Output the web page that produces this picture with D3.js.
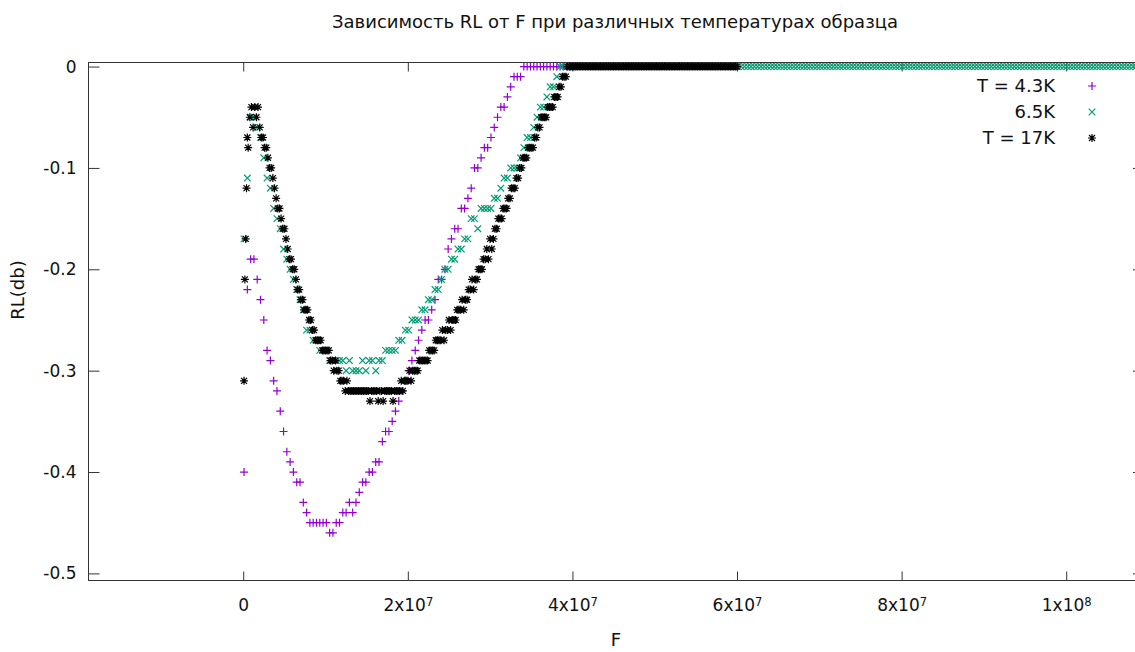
<!DOCTYPE html>
<html>
<head>
<meta charset="utf-8">
<script src="https://cdn.jsdelivr.net/npm/d3@7"></script>
<style>
  body { margin: 0; background: #ffffff; }
  svg { display: block; font-family: "DejaVu Sans", Verdana, sans-serif; }
</style>
</head>
<body>
<svg id="chart" width="1135" height="652"></svg>
<script>
// ---- text ----
const title = "Зависимость RL от F при различных температурах образца";
const xLabel = "F";
const yLabel = "RL(db)";
const seriesNames = ["T = 4.3K", "6.5K", "T = 17K"];

// ---- ticks ----
const yTicks = [0, -0.1, -0.2, -0.3, -0.4, -0.5];
const xTicks = [0, 2e7, 4e7, 6e7, 8e7, 1e8];
const xTickBase = ["0", "2x10", "4x10", "6x10", "8x10", "1x10"];
const xTickExp = ["", "7", "7", "7", "7", "8"];

// ---- sweep frequencies, MHz (4.3K and 6.5K runs) ----
const sweepMHz = [
  0.1,0.5,0.9,1.3,1.7,2.1,2.5,2.9,3.3,3.7,
  4.1,4.5,4.9,5.3,5.7,6.1,6.5,6.9,7.3,7.7,
  8.1,8.5,8.9,9.3,9.7,10.1,10.5,10.9,11.3,11.7,
  12.1,12.5,12.9,13.3,13.7,14.1,14.5,14.9,15.3,15.7,
  16.1,16.5,16.9,17.3,17.7,18.1,18.5,18.9,19.3,19.7,
  20.1,20.5,20.9,21.3,21.7,22.1,22.5,22.9,23.3,23.7,
  24.1,24.5,24.9,25.3,25.7,26.1,26.5,26.9,27.3,27.7,
  28.1,28.5,28.9,29.3,29.7,30.1,30.5,30.9,31.3,31.7,
  32.1,32.5,32.9,33.3,33.7,34.1,34.5,34.9,35.3,35.7,
  36.1,36.5,36.9,37.3,37.7,38.1,38.5,38.9,39.3,39.7,
  40.1,40.5,40.9,41.3,41.7,42.1,42.5,42.9,43.3,43.7,
  44.1,44.5,44.9,45.3,45.7,46.1,46.5,46.9,47.3,47.7,
  48.1,48.5,48.9,49.3,49.7,50.1,50.5,50.9,51.3,51.7,
  52.1,52.5,52.9,53.3,53.7,54.1,54.5,54.9,55.3,55.7,
  56.1,56.5,56.9,57.3,57.7,58.1,58.5,58.9,59.3,59.7,
  60.1,60.5,60.9,61.3,61.7,62.1,62.5,62.9,63.3,63.7,
  64.1,64.5,64.9,65.3,65.7,66.1,66.5,66.9,67.3,67.7,
  68.1,68.5,68.9,69.3,69.7,70.1,70.5,70.9,71.3,71.7,
  72.1,72.5,72.9,73.3,73.7,74.1,74.5,74.9,75.3,75.7,
  76.1,76.5,76.9,77.3,77.7,78.1,78.5,78.9,79.3,79.7,
  80.1,80.5,80.9,81.3,81.7,82.1,82.5,82.9,83.3,83.7,
  84.1,84.5,84.9,85.3,85.7,86.1,86.5,86.9,87.3,87.7,
  88.1,88.5,88.9,89.3,89.7,90.1,90.5,90.9,91.3,91.7,
  92.1,92.5,92.9,93.3,93.7,94.1,94.5,94.9,95.3,95.7,
  96.1,96.5,96.9,97.3,97.7,98.1,98.5,98.9,99.3,99.7,
  100.1,100.5,100.9,101.3,101.7,102.1,102.5,102.9,103.3,103.7,
  104.1,104.5,104.9,105.3,105.7,106.1,106.5,106.9,107.3,107.7,
  108.1,108.5,108.9,109.3,109.7,110.1,110.5,110.9,111.3,111.7
];

// ---- sweep frequencies, MHz (17K run, finer step) ----
const sweep17MHz = [
  0.1,0.2,0.3,0.4,0.5,0.6,
  0.8,1.0,1.2,1.4,1.6,1.8,2.0,2.2,2.4,2.6,
  2.8,3.0,3.2,3.4,3.6,3.8,4.0,4.2,4.4,4.6,
  4.8,5.0,5.2,5.4,5.6,5.8,6.0,6.2,6.4,6.6,
  6.8,7.0,7.2,7.4,7.6,7.8,8.0,8.2,8.4,8.6,
  8.8,9.0,9.2,9.4,9.6,9.8,10.0,10.2,10.4,10.6,
  10.8,11.0,11.2,11.4,11.6,11.8,12.0,12.2,12.4,12.6,
  12.8,13.0,13.2,13.4,13.6,13.8,14.0,14.2,14.4,14.6,
  14.8,15.0,15.2,15.4,15.6,15.8,16.0,16.2,16.4,16.6,
  16.8,17.0,17.2,17.4,17.6,17.8,18.0,18.2,18.4,18.6,
  18.8,19.0,19.2,19.4,19.6,19.8,20.0,20.2,20.4,20.6,
  20.8,21.0,21.2,21.4,21.6,21.8,22.0,22.2,22.4,22.6,
  22.8,23.0,23.2,23.4,23.6,23.8,24.0,24.2,24.4,24.6,
  24.8,25.0,25.2,25.4,25.6,25.8,26.0,26.2,26.4,26.6,
  26.8,27.0,27.2,27.4,27.6,27.8,28.0,28.2,28.4,28.6,
  28.8,29.0,29.2,29.4,29.6,29.8,30.0,30.2,30.4,30.6,
  30.8,31.0,31.2,31.4,31.6,31.8,32.0,32.2,32.4,32.6,
  32.8,33.0,33.2,33.4,33.6,33.8,34.0,34.2,34.4,34.6,
  34.8,35.0,35.2,35.4,35.6,35.8,36.0,36.2,36.4,36.6,
  36.8,37.0,37.2,37.4,37.6,37.8,38.0,38.2,38.4,38.6,
  38.8,39.0,39.2,39.4,39.6,39.8,40.0,40.2,40.4,40.6,
  40.8,41.0,41.2,41.4,41.6,41.8,42.0,42.2,42.4,42.6,
  42.8,43.0,43.2,43.4,43.6,43.8,44.0,44.2,44.4,44.6,
  44.8,45.0,45.2,45.4,45.6,45.8,46.0,46.2,46.4,46.6,
  46.8,47.0,47.2,47.4,47.6,47.8,48.0,48.2,48.4,48.6,
  48.8,49.0,49.2,49.4,49.6,49.8,50.0,50.2,50.4,50.6,
  50.8,51.0,51.2,51.4,51.6,51.8,52.0,52.2,52.4,52.6,
  52.8,53.0,53.2,53.4,53.6,53.8,54.0,54.2,54.4,54.6,
  54.8,55.0,55.2,55.4,55.6,55.8,56.0,56.2,56.4,56.6,
  56.8,57.0,57.2,57.4,57.6,57.8,58.0,58.2,58.4,58.6,
  58.8,59.0,59.2,59.4,59.6,59.8,60.0
];

// ---- RL readings in 0.01 dB ----
// T = 4.3K (first 100 sweep points)
const rl43 = [
  -40,-22,-19,-19,-21,-23,-25,-28,-29,-31,
  -32,-34,-36,-38,-39,-40,-41,-41,-43,-44,
  -45,-45,-45,-45,-45,-45,-46,-46,-45,-45,
  -44,-44,-43,-44,-43,-42,-41,-41,-40,-40,
  -39,-39,-37,-36,-36,-35,-34,-33,-32,-31,
  -30,-29,-28,-27,-26,-25,-25,-24,-23,-21,
  -21,-20,-18,-17,-16,-16,-14,-14,-13,-12,
  -10,-10,-9,-8,-8,-7,-6,-5,-4,-4,
  -3,-2,-1,-1,-1,0,0,0,0,0,
  0,0,0,0,0,0,0,0,0,0
];

// 6.5K
const rl65 = [
  -17,-11,-5,-5,-6,-7,-9,-11,-12,-14,
  -15,-16,-18,-19,-20,-21,-22,-23,-24,-26,
  -26,-27,-27,-28,-28,-28,-29,-29,-29,-29,
  -29,-30,-29,-30,-30,-30,-29,-30,-29,-29,
  -30,-29,-29,-28,-28,-28,-28,-27,-27,-26,
  -26,-25,-25,-25,-24,-24,-23,-23,-22,-22,
  -21,-20,-20,-19,-19,-18,-18,-17,-17,-15,
  -15,-16,-14,-14,-14,-14,-13,-13,-12,-11,
  -11,-10,-10,-10,-9,-8,-7,-7,-6,-5,
  -4,-4,-3,-2,-2,-1,0,0,0,0,
  0,0,0,0,0,0,0,0,0,0,
  0,0,0,0,0,0,0,0,0,0,
  0,0,0,0,0,0,0,0,0,0,
  0,0,0,0,0,0,0,0,0,0,
  0,0,0,0,0,0,0,0,0,0,
  0,0,0,0,0,0,0,0,0,0,
  0,0,0,0,0,0,0,0,0,0,
  0,0,0,0,0,0,0,0,0,0,
  0,0,0,0,0,0,0,0,0,0,
  0,0,0,0,0,0,0,0,0,0,
  0,0,0,0,0,0,0,0,0,0,
  0,0,0,0,0,0,0,0,0,0,
  0,0,0,0,0,0,0,0,0,0,
  0,0,0,0,0,0,0,0,0,0,
  0,0,0,0,0,0,0,0,0,0,
  0,0,0,0,0,0,0,0,0,0,
  0,0,0,0,0,0,0,0,0,0,
  0,0,0,0,0,0,0,0,0,0
];

// T = 17K
const rl17 = [
  -31,-21,-17,-12,-7,-8,
  -5,-4,-6,-4,-5,-4,-6,-7,-7,-8,
  -8,-9,-10,-10,-11,-12,-13,-14,-14,-15,
  -16,-16,-17,-18,-19,-19,-20,-20,-21,-22,
  -22,-23,-23,-24,-24,-24,-25,-25,-26,-26,
  -27,-27,-27,-27,-28,-28,-28,-28,-28,-29,
  -29,-30,-29,-30,-30,-31,-31,-31,-32,-31,
  -32,-32,-32,-32,-32,-32,-32,-32,-32,-32,
  -32,-32,-32,-33,-32,-32,-32,-32,-33,-32,
  -32,-33,-32,-32,-32,-32,-32,-33,-32,-32,
  -32,-32,-31,-32,-31,-31,-31,-30,-31,-30,
  -30,-30,-30,-29,-29,-29,-29,-29,-29,-28,
  -28,-28,-28,-27,-27,-27,-27,-26,-27,-26,
  -26,-25,-26,-25,-25,-25,-24,-24,-24,-23,
  -24,-23,-23,-22,-22,-21,-22,-21,-21,-20,
  -20,-20,-19,-19,-18,-19,-17,-18,-17,-16,
  -16,-15,-15,-15,-14,-14,-14,-13,-13,-12,
  -12,-12,-11,-11,-10,-10,-9,-9,-9,-8,
  -8,-8,-8,-7,-7,-6,-6,-5,-5,-5,
  -5,-4,-4,-4,-4,-3,-3,-3,-2,-2,
  -1,-1,-1,0,0,0,0,0,0,0,
  0,0,0,0,0,0,0,0,0,0,
  0,0,0,0,0,0,0,0,0,0,
  0,0,0,0,0,0,0,0,0,0,
  0,0,0,0,0,0,0,0,0,0,
  0,0,0,0,0,0,0,0,0,0,
  0,0,0,0,0,0,0,0,0,0,
  0,0,0,0,0,0,0,0,0,0,
  0,0,0,0,0,0,0,0,0,0,
  0,0,0,0,0,0,0,0,0,0,
  0,0,0,0,0,0,0
];

const svg = d3.select("#chart");
const box = { left: 88.5, right: 1144, top: 62.5, bottom: 580.5 };
const ink = "#333333";
const textInk = "#111111";
const tickFont = 17;
const labelFont = 18;

const x = d3.scaleLinear().domain([-1.88e7, 1.0945e8]).range([box.left, box.right]);
const y = d3.scaleLinear().domain([-0.507, 0.004]).range([box.bottom, box.top]);

// gnuplot point types 1, 2, 3
const shapes = {
  plus:  "M-4,0H4M0,-4V4",
  cross: "M-3.3,-3.3L3.3,3.3M-3.3,3.3L3.3,-3.3",
  star:  "M-4,0H4M0,-4V4M-3,-3L3,3M-3,3L3,-3"
};

const series = [
  { name: seriesNames[0], freq: sweepMHz,   rl: rl43, color: "#9400d3", shape: "plus" },
  { name: seriesNames[1], freq: sweepMHz,   rl: rl65, color: "#009e73", shape: "cross" },
  { name: seriesNames[2], freq: sweep17MHz, rl: rl17, color: "#000000", shape: "star" }
];

svg.append("defs").append("clipPath").attr("id", "plot-clip")
  .append("rect")
  .attr("x", box.left).attr("y", box.top)
  .attr("width", box.right - box.left).attr("height", box.bottom - box.top);

function styleAxis(g) {
  g.attr("font-size", tickFont).attr("font-family", null);
  g.select(".domain").remove();
  g.selectAll(".tick line").attr("stroke", ink);
  g.selectAll(".tick text").attr("fill", textInk);
}

// y axis, left + mirrored right
svg.append("g")
  .attr("transform", `translate(${box.left},0)`)
  .call(d3.axisLeft(y).tickValues(yTicks).tickSizeInner(-11).tickSizeOuter(0)
    .tickPadding(12).tickFormat(d => String(d)))
  .call(styleAxis);

svg.append("g")
  .attr("transform", `translate(${box.right},0)`)
  .call(d3.axisRight(y).tickValues(yTicks).tickSizeInner(-11).tickSizeOuter(0).tickFormat(""))
  .call(styleAxis);

// x axis, bottom + mirrored top
const xAxisG = svg.append("g")
  .attr("transform", `translate(0,${box.bottom})`)
  .call(d3.axisBottom(x).tickValues(xTicks).tickSizeInner(-9).tickSizeOuter(0).tickPadding(18))
  .call(styleAxis);

xAxisG.selectAll(".tick text").each(function (d, i) {
  const t = d3.select(this).text(null);
  t.append("tspan").text(xTickBase[i]);
  if (xTickExp[i]) {
    t.append("tspan").attr("dy", "-0.42em").attr("font-size", "0.68em").text(xTickExp[i]);
  }
});

svg.append("g")
  .attr("transform", `translate(0,${box.top})`)
  .call(d3.axisTop(x).tickValues(xTicks).tickSizeInner(-9).tickSizeOuter(0).tickFormat(""))
  .call(styleAxis);

// border
svg.append("rect")
  .attr("x", box.left).attr("y", box.top)
  .attr("width", box.right - box.left).attr("height", box.bottom - box.top)
  .attr("fill", "none").attr("stroke", ink).attr("stroke-width", 1);

// points
const plotG = svg.append("g").attr("clip-path", "url(#plot-clip)");
series.forEach(s => {
  const pts = d3.zip(s.freq, s.rl).map(([f, r]) => ({ f: f * 1e6, v: r / 100 }));
  plotG.append("g")
    .selectAll("path")
    .data(pts)
    .join("path")
    .attr("d", shapes[s.shape])
    .attr("transform", d => `translate(${x(d.f)},${y(d.v)})`)
    .attr("fill", "none")
    .attr("stroke", s.color)
    .attr("stroke-width", 1.2);
});

// legend
const legend = svg.append("g").attr("font-size", labelFont).attr("fill", textInk);
series.forEach((s, i) => {
  const ly = 86 + i * 26;
  legend.append("text")
    .attr("x", 1055).attr("y", ly).attr("dy", "0.35em")
    .attr("text-anchor", "end")
    .text(s.name);
  legend.append("path")
    .attr("d", shapes[s.shape])
    .attr("transform", `translate(1092,${ly})`)
    .attr("fill", "none").attr("stroke", s.color).attr("stroke-width", 1.2);
});

// titles
svg.append("text")
  .attr("x", 615).attr("y", 22).attr("dy", "0.35em")
  .attr("text-anchor", "middle").attr("font-size", labelFont).attr("fill", textInk)
  .text(title);

svg.append("text")
  .attr("x", 616).attr("y", 640).attr("dy", "0.35em")
  .attr("text-anchor", "middle").attr("font-size", labelFont).attr("fill", textInk)
  .text(xLabel);

svg.append("text")
  .attr("transform", "translate(18,290) rotate(-90)")
  .attr("dy", "0.35em")
  .attr("text-anchor", "middle").attr("font-size", labelFont).attr("fill", textInk)
  .text(yLabel);
</script>
</body>
</html>
